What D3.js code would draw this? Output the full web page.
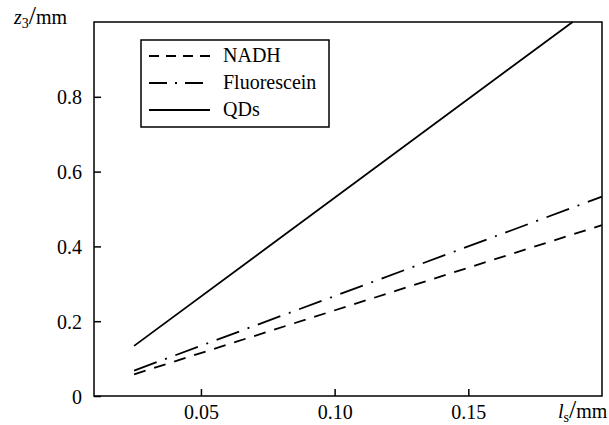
<!DOCTYPE html>
<html>
<head>
<meta charset="utf-8">
<script src="https://cdn.jsdelivr.net/npm/d3@7"></script>
<style>
  body { margin: 0; background: #fff; }
  #chart { width: 609px; height: 425px; }
</style>
</head>
<body>
<div id="chart"></div>
<script>
const seriesNames = ["NADH", "Fluorescein", "QDs"];
const nadh = [[0.025, 0.058], [0.2, 0.457]];
const fluorescein = [[0.025, 0.068], [0.2, 0.533]];
const qds = [[0.025, 0.134], [0.189, 1.0]];
const xTicks = [0.05, 0.10, 0.15];
const yTicks = [0, 0.2, 0.4, 0.6, 0.8];

const FONT = "'Liberation Serif'";

function draw() {
  const w = 609, h = 425;
  const margin = { top: 22, right: 7, bottom: 29, left: 94 };
  const innerW = w - margin.left - margin.right;
  const innerH = h - margin.top - margin.bottom;

  const svg = d3.select("#chart").append("svg")
    .attr("width", w)
    .attr("height", h);

  const g = svg.append("g")
    .attr("transform", `translate(${margin.left},${margin.top})`);

  const x = d3.scaleLinear().domain([0.01, 0.2]).range([0, innerW]);
  const y = d3.scaleLinear().domain([0, 1.0]).range([innerH, 0]);

  // frame
  g.append("rect")
    .attr("width", innerW)
    .attr("height", innerH)
    .attr("fill", "none")
    .attr("stroke", "#000")
    .attr("stroke-width", 1.5);

  const xAxis = g.append("g")
    .attr("transform", `translate(0,${innerH})`)
    .call(d3.axisBottom(x).tickValues(xTicks).tickFormat(d3.format(".2f")).tickSizeInner(-7).tickSizeOuter(0).tickPadding(9));
  const yAxis = g.append("g")
    .call(d3.axisLeft(y).tickValues(yTicks).tickFormat(d => d === 0 ? "0" : d3.format(".1f")(d)).tickSizeInner(-7).tickSizeOuter(0).tickPadding(12));

  [xAxis, yAxis].forEach(a => {
    a.select(".domain").remove();
    a.selectAll("line").attr("stroke", "#000").attr("stroke-width", 1.5);
    a.selectAll("text")
      .attr("fill", "#000")
      .style("font-family", FONT)
      .style("font-size", "20px");
  });
  yAxis.selectAll("text").attr("dy", "0.35em");

  const line = d3.line().x(d => x(d[0])).y(d => y(d[1]));
  const dashes = { NADH: "12,9", Fluorescein: "24,9,2,9", QDs: null };
  const legendDashes = { NADH: "10,7", Fluorescein: "18,8,2,8", QDs: null };
  const data = { NADH: nadh, Fluorescein: fluorescein, QDs: qds };

  seriesNames.forEach(name => {
    g.append("path")
      .datum(data[name])
      .attr("d", line)
      .attr("fill", "none")
      .attr("stroke", "#000")
      .attr("stroke-width", 1.8)
      .attr("stroke-dasharray", dashes[name]);
  });

  // legend
  const lg = svg.append("g").attr("transform", "translate(141,40)");
  lg.append("rect")
    .attr("width", 188)
    .attr("height", 87)
    .attr("fill", "#fff")
    .attr("stroke", "#000")
    .attr("stroke-width", 1.5);
  seriesNames.forEach((name, i) => {
    const yy = 16 + i * 27;
    lg.append("line")
      .attr("x1", 8).attr("x2", 69)
      .attr("y1", yy).attr("y2", yy)
      .attr("stroke", "#000")
      .attr("stroke-width", 1.8)
      .attr("stroke-dasharray", legendDashes[name]);
    lg.append("text")
      .attr("x", 82)
      .attr("y", yy + 6)
      .style("font-family", FONT)
      .style("font-size", "20px")
      .text(name);
  });

  // axis titles
  const yt = svg.append("text").attr("x", 14).attr("y", 24)
    .style("font-family", FONT).style("font-size", "20px");
  yt.append("tspan").style("font-style", "italic").text("z");
  yt.append("tspan").attr("dy", 4).style("font-size", "14px").text("3");
  yt.append("tspan").attr("dy", -4).style("font-size", "26px").text("/");
  yt.append("tspan").text("mm");

  const xt = svg.append("text").attr("x", 558).attr("y", 418)
    .style("font-family", FONT).style("font-size", "20px");
  xt.append("tspan").style("font-style", "italic").text("l");
  xt.append("tspan").attr("dy", 4).style("font-size", "14px").text("s");
  xt.append("tspan").attr("dy", -4).style("font-size", "26px").text("/");
  xt.append("tspan").text("mm");
}

draw();
</script>
</body>
</html>
